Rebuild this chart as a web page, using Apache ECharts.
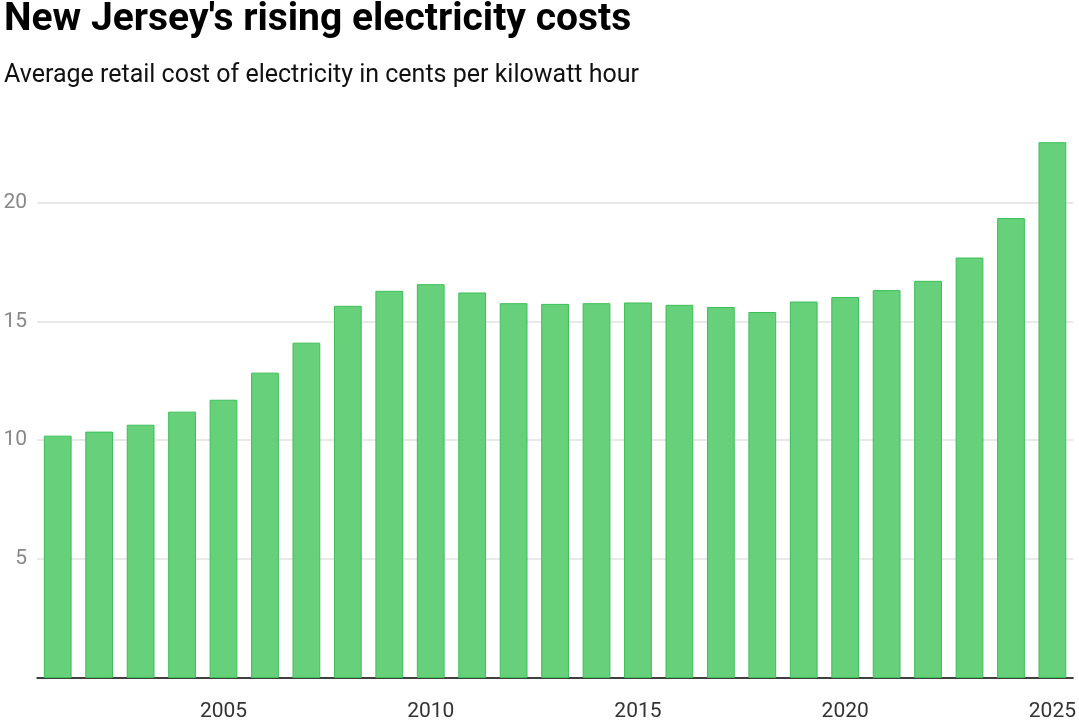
<!DOCTYPE html>
<html>
<head>
<meta charset="utf-8">
<title>New Jersey electricity costs</title>
<script src="https://cdn.jsdelivr.net/npm/echarts@6/dist/echarts.min.js"></script>
<style>
  html, body { margin: 0; padding: 0; background: #fff; }
  #main { width: 1079px; height: 722px; }
</style>
</head>
<body>
<div id="main"></div>
<script type="text/javascript">
// years and average retail price (cents per kWh)
var years = ['2001', '2002', '2003', '2004', '2005', '2006', '2007', '2008', '2009', '2010',
  '2011', '2012', '2013', '2014', '2015', '2016', '2017', '2018', '2019', '2020',
  '2021', '2022', '2023', '2024', '2025'];
var cents = [10.19, 10.36, 10.65, 11.2, 11.7, 12.84, 14.1, 15.65, 16.28, 16.56,
  16.21, 15.76, 15.73, 15.76, 15.79, 15.69, 15.6, 15.39, 15.83, 16.02,
  16.31, 16.7, 17.68, 19.34, 22.53];

var myChart = echarts.init(document.getElementById('main'));

// only every fifth year gets a label and a tick
function everyFifth(idx, val) {
  return Number(val) % 5 === 0;
}

var option = {
  animation: false,
  title: [{
    text: "New Jersey's rising electricity costs",
    left: -1,
    top: -4,
    textStyle: { fontFamily: 'Roboto', fontWeight: 'bold', fontSize: 39, color: '#000' }
  }, {
    text: 'Average retail cost of electricity in cents per kilowatt hour',
    left: -1,
    top: 58,
    textStyle: { fontFamily: 'Roboto', fontWeight: 'normal', fontSize: 25, color: '#111' }
  }],
  grid: {
    left: 37,
    right: 5,
    top: 131,
    bottom: 43.5,
    containLabel: false
  },
  xAxis: {
    type: 'category',
    data: years,
    boundaryGap: true,
    axisLine: { lineStyle: { color: '#000', width: 1.5 } },
    axisTick: { interval: everyFifth, alignWithLabel: true, length: 7, lineStyle: { color: '#000', width: 2 } },
    axisLabel: {
      interval: everyFifth,
      margin: 23,
      fontFamily: 'Roboto',
      fontSize: 21,
      color: '#333'
    }
  },
  yAxis: {
    type: 'value',
    min: 0,
    max: 23,
    interval: 5,
    axisLine: { show: false },
    axisTick: { show: false },
    axisLabel: {
      showMinLabel: false,
      showMaxLabel: false,
      margin: 10,
      fontFamily: 'Roboto',
      fontSize: 21,
      color: '#888'
    },
    splitLine: {
      showMinLine: false,
      showMaxLine: false,
      lineStyle: { color: '#e2e2e2', width: 1.5 }
    }
  },
  series: [{
    type: 'bar',
    data: cents,
    barCategoryGap: '33%',
    itemStyle: {
      color: '#66d17a',
      borderColor: '#3cbf57',
      borderWidth: 1
    }
  }]
};

myChart.setOption(option);
</script>
</body>
</html>
